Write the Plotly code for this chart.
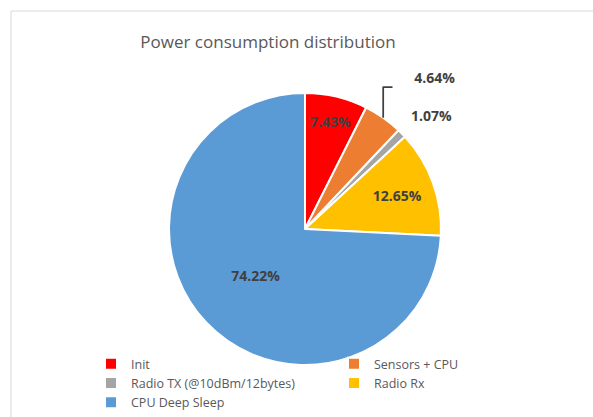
import plotly.graph_objects as go

labels = ["Init", "Sensors + CPU", "Radio TX (@10dBm/12bytes)", "Radio Rx", "CPU Deep Sleep"]
values = [7.43, 4.64, 1.07, 12.65, 74.22]
colors = ["#FF0000", "#ED7D31", "#A5A5A5", "#FFC000", "#5B9BD5"]
text_positions = ["inside", "outside", "outside", "inside", "inside"]

W, H = 593, 417
cx, cy, r = 305, 229, 136

pct = "%{value:.2f}%"
templates = [pct, "\u00a0" * 6 + pct + "<br>\u00a0", pct + "<br>\u00a0", pct, pct]

fig = go.Figure(go.Pie(
    labels=labels,
    values=values,
    sort=False,
    direction="clockwise",
    rotation=0,
    marker=dict(colors=colors, line=dict(color="white", width=2)),
    texttemplate=templates,
    textposition=text_positions,
    textfont=dict(family="Open Sans", size=14, color="#404040", weight="bold"),
    insidetextorientation="horizontal",
    automargin=False,
    domain=dict(x=[(cx - r) / W, (cx + r) / W], y=[(H - cy - r) / H, (H - cy + r) / H]),
    hoverinfo="label+value",
))

fig.update_layout(
    width=W, height=H,
    margin=dict(l=0, r=0, t=0, b=0, autoexpand=False),
    paper_bgcolor="white",
    title=dict(text="Power consumption distribution", x=268 / W, xanchor="center",
               y=1 - 42 / H, yanchor="middle",
               font=dict(family="Open Sans", size=17, color="#595959")),
    font=dict(family="Open Sans", color="#595959"),
    legend=dict(orientation="h", x=91 / W, xanchor="left", y=1 - 349 / H, yanchor="top",
                entrywidth=198, entrywidthmode="pixels",
                font=dict(family="Open Sans", size=12.5, color="#595959"),
                itemwidth=30, tracegroupgap=0, bgcolor="rgba(0,0,0,0)"),
    shapes=[dict(type="rect", xref="paper", yref="paper",
                 x0=11 / W, x1=1.2, y0=-0.2, y1=1 - 11 / H,
                 line=dict(color="#D9D9D9", width=1), layer="below")],
)

fig.write_html("out.html", config={"displayModeBar": False},
               post_script="document.body.style.margin='0';")
